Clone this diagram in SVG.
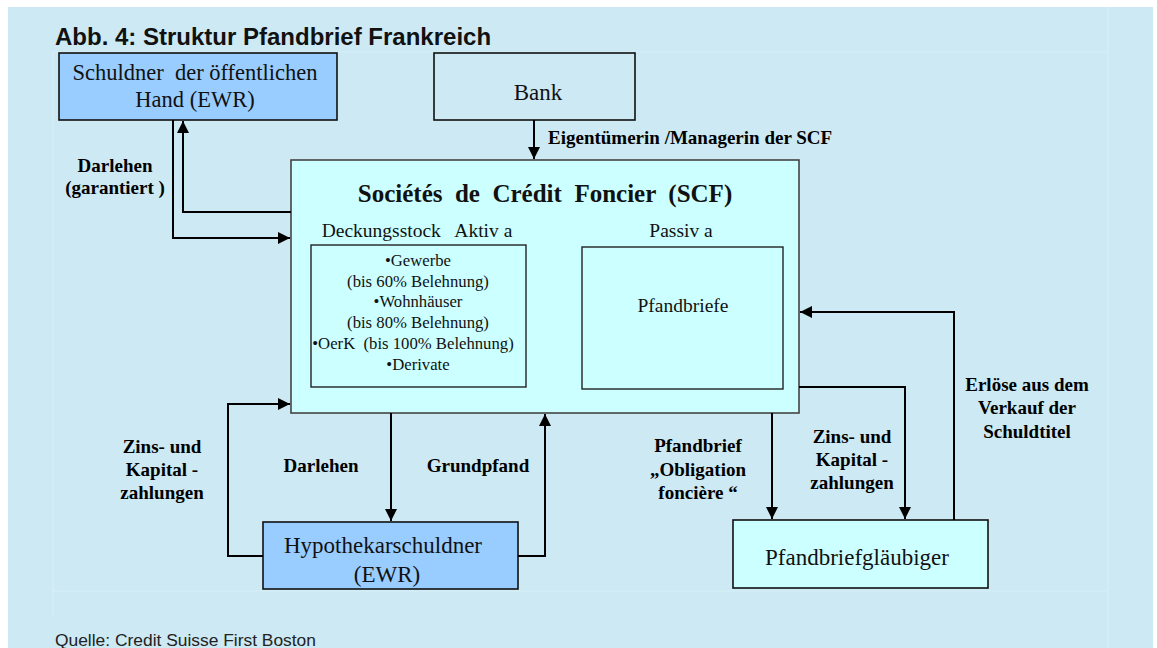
<svg xmlns="http://www.w3.org/2000/svg" width="1157" height="648" viewBox="0 0 1157 648">
<defs>
<style>
.serif{font-family:"Liberation Serif","Times New Roman",serif;fill:#111}
.box{stroke:#111;stroke-width:1.6}
.lbl{font-family:"Liberation Serif","Times New Roman",serif;font-weight:bold;font-size:19px;fill:#000}
.mid{text-anchor:middle}
.conn{fill:none;stroke:#000;stroke-width:2}
.faint{stroke:#d8eff7;stroke-width:1.2;fill:none}
</style>
<marker id="arr" markerUnits="userSpaceOnUse" markerWidth="13" markerHeight="12" refX="12" refY="6" orient="auto">
<path d="M0,0 L12,6 L0,12 Z" fill="#000"/>
</marker>
</defs>
<rect x="0" y="0" width="1157" height="648" fill="#ffffff"/>
<rect x="8" y="7" width="1145" height="641" fill="#cde9f3"/>
<path class="faint" d="M53,52 H1108 M53,52 V617 M53,591 H1108 M1108,7 V648"/>
<text x="55" y="45" font-family="Liberation Sans, Arial, sans-serif" font-weight="bold" font-size="24" fill="#111">Abb. 4: Struktur Pfandbrief Frankreich</text>

<g id="schuldner">
<rect class="box" x="59" y="53" width="278" height="67" fill="#99ccff"/>
<text class="serif" x="195" y="80" font-size="22.5" text-anchor="middle" xml:space="preserve">Schuldner  der öffentlichen</text>
<text class="serif" x="195" y="107" font-size="22.5" text-anchor="middle">Hand (EWR)</text>
</g>

<g id="bank">
<rect class="box" x="434" y="53" width="201" height="67" fill="#cde9f3"/>
<text class="serif" x="538" y="100" font-size="23" text-anchor="middle">Bank</text>
</g>

<g id="scf">
<rect x="291" y="160" width="508" height="253" fill="#ccffff" stroke="#444" stroke-width="1.6"/>
<text class="serif" x="545" y="202" font-size="25" font-weight="bold" text-anchor="middle" xml:space="preserve">Sociétés  de  Crédit  Foncier  (SCF)</text>
<text class="serif" x="417" y="237" font-size="19.5" text-anchor="middle" xml:space="preserve">Deckungsstock   Aktiv a</text>
<text class="serif" x="681" y="237" font-size="19.5" text-anchor="middle">Passiv a</text>
</g>

<g id="deckungsstock">
<rect x="311" y="245" width="215" height="142" fill="#ccffff" stroke="#222" stroke-width="1.4"/>
<g class="serif" font-size="16.7" text-anchor="middle">
<text x="418" y="266">•Gewerbe</text>
<text x="418" y="287">(bis 60% Belehnung)</text>
<text x="418" y="307">•Wohnhäuser</text>
<text x="418" y="328">(bis 80% Belehnung)</text>
<text x="413" y="349" xml:space="preserve">•OerK  (bis 100% Belehnung)</text>
<text x="418" y="370">•Derivate</text>
</g>
</g>

<g id="passiva">
<rect x="582" y="247" width="201" height="142" fill="#ccffff" stroke="#222" stroke-width="1.4"/>
<text class="serif" x="683" y="312" font-size="19.5" text-anchor="middle">Pfandbriefe</text>
</g>

<g id="hypothekarschuldner">
<rect class="box" x="263" y="522" width="255" height="67" fill="#99ccff"/>
<text class="serif" x="383" y="553" font-size="23" text-anchor="middle">Hypothekarschuldner</text>
<text class="serif" x="387" y="582" font-size="23" text-anchor="middle">(EWR)</text>
</g>

<g id="glaeubiger">
<rect class="box" x="733" y="520" width="255" height="68" fill="#ccffff"/>
<text class="serif" x="857" y="565" font-size="23" text-anchor="middle">Pfandbriefgläubiger</text>
</g>

<g id="connectors">
<path class="conn" d="M291,212 H183 V121" marker-end="url(#arr)"/>
<path class="conn" d="M173,120 V238 H290" marker-end="url(#arr)"/>
<path class="conn" d="M534,120 V159" marker-end="url(#arr)"/>
<path class="conn" d="M263,556 H228 V404 H290" marker-end="url(#arr)"/>
<path class="conn" d="M391,413 V521" marker-end="url(#arr)"/>
<path class="conn" d="M518,556 H545 V414" marker-end="url(#arr)"/>
<path class="conn" d="M772,413 V519" marker-end="url(#arr)"/>
<path class="conn" d="M799,387 H905 V519" marker-end="url(#arr)"/>
<path class="conn" d="M954,520 V312 H800" marker-end="url(#arr)"/>
</g>

<g id="labels">
<text class="lbl mid" x="115" y="172">Darlehen</text>
<text class="lbl mid" x="115" y="194">(garantiert )</text>
<text class="lbl" x="548" y="144">Eigentümerin /Managerin der SCF</text>
<text class="lbl mid" x="162" y="453">Zins- und</text>
<text class="lbl mid" x="162" y="476">Kapital -</text>
<text class="lbl mid" x="162" y="499">zahlungen</text>
<text class="lbl mid" x="321" y="472">Darlehen</text>
<text class="lbl mid" x="478" y="472">Grundpfand</text>
<text class="lbl mid" x="698" y="452">Pfandbrief</text>
<text class="lbl mid" x="698" y="476">„Obligation</text>
<text class="lbl mid" x="698" y="499">foncière “</text>
<text class="lbl mid" x="852" y="443">Zins- und</text>
<text class="lbl mid" x="852" y="466">Kapital -</text>
<text class="lbl mid" x="852" y="489">zahlungen</text>
<text class="lbl mid" x="1027" y="391">Erlöse aus dem</text>
<text class="lbl mid" x="1027" y="414">Verkauf der</text>
<text class="lbl mid" x="1027" y="438">Schuldtitel</text>
</g>

<text x="55" y="646" font-family="Liberation Sans, Arial, sans-serif" font-size="17.4" fill="#222">Quelle: Credit Suisse First Boston</text>
</svg>
